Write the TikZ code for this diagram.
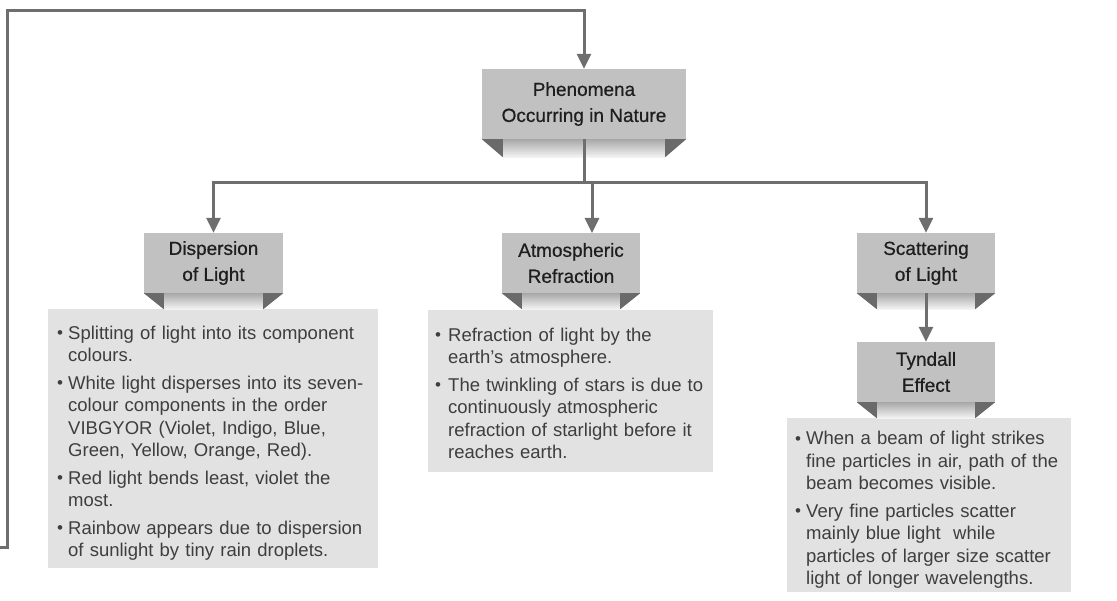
\documentclass[tikz,border=0pt]{standalone}
\usepackage{fontspec}
\setmainfont{Liberation Sans}
\newfontfamily\titlefont{Liberation Sans}[FakeBold=0.6]
\usetikzlibrary{arrows.meta}
\definecolor{titlefill}{HTML}{C1C1C1}
\definecolor{boxfill}{HTML}{E2E2E2}
\definecolor{linec}{HTML}{6E6E6E}
\definecolor{ribdark}{HTML}{6A6A6A}
\definecolor{ribtop}{HTML}{A8A8A8}
\definecolor{ribbot}{HTML}{F4F4F4}
\definecolor{txt}{HTML}{1E1E1E}
\definecolor{btxt}{HTML}{3E3E3E}
\newcommand\ribbon[3]{%
  \shade[top color=ribtop, bottom color=ribbot] ([xshift=#2]#1.south west) rectangle ([xshift=-#2, yshift=-#3]#1.south east);
  \fill[ribdark] (#1.south west) -- ([xshift=#2]#1.south west) -- ([xshift=#2,yshift=-#3]#1.south west) -- cycle;
  \fill[ribdark] (#1.south east) -- ([xshift=-#2]#1.south east) -- ([xshift=-#2,yshift=-#3]#1.south east) -- cycle;}
\newcommand\bitem[2]{\par\hangindent=#1\hangafter=1\noindent\makebox[#1][l]{\raisebox{0.3pt}{\fontsize{17}{17}\selectfont\textbullet}}#2\par}
\begin{document}
\begin{tikzpicture}[x=1pt,y=-1pt,
  titlebox/.style={fill=titlefill, minimum width=138pt, minimum height=60pt, inner sep=0pt, align=center, font=\titlefont\fontsize{19}{26}\selectfont, text=txt},
  infobox/.style={fill=boxfill, anchor=north west, inner ysep=0pt, text=btxt, font=\fontsize{18.5}{22.5}\selectfont, align=left},
  conn/.style={draw=linec, line width=3pt},
  arr/.style={conn, -{Triangle[width=14pt,length=15pt]}}]
\useasboundingbox (0,0) rectangle (1117,601);

% info boxes
\node[infobox, inner xsep=9pt, text width=312pt, minimum height=259pt] (info1) at (48,309) {%
  \raggedright
  \bitem{11pt}{Splitting of light into its component\newline colours.}\vspace{5pt}
  \bitem{11pt}{White light disperses into its seven-\newline colour components in the order\newline VIBGYOR (Violet, Indigo, Blue,\newline Green, Yellow, Orange, Red).}\vspace{5pt}
  \bitem{11pt}{Red light bends least, violet the\newline most.}\vspace{5pt}
  \bitem{11pt}{Rainbow appears due to dispersion\newline of sunlight by tiny rain droplets.}};
\node[infobox, inner xsep=7pt, text width=271pt, minimum height=162pt] (info2) at (428,310) {%
  \raggedright
  \bitem{13pt}{Refraction of light by the\newline earth’s atmosphere.}\vspace{5pt}
  \bitem{13pt}{The twinkling of stars is due to\newline continuously atmospheric\newline refraction of starlight before it\newline reaches earth.}\vspace{5pt}};
\node[infobox, inner xsep=8pt, text width=268pt, minimum height=174pt] (info3) at (787,418) {%
  \raggedright
  \bitem{11pt}{When a beam of light strikes\newline fine particles in air, path of the\newline beam becomes visible.}\vspace{5pt}
  \bitem{11pt}{Very fine particles scatter\newline mainly blue light\ \ while\newline particles of larger size scatter\newline light of longer wavelengths.}};

% title boxes
\node[titlebox, minimum width=204pt, minimum height=70pt] (top) at (584,104) {Phenomena\\Occurring in Nature};
\node[titlebox, minimum width=139pt] (disp) at (213.5,263) {Dispersion\\of Light};
\node[titlebox] (atm) at (571,263) {Atmospheric\\Refraction};
\node[titlebox] (scat) at (926,263) {Scattering\\of Light};
\node[titlebox] (tyn) at (926,372) {Tyndall\\Effect};

\ribbon{top}{21pt}{18pt}
\ribbon{disp}{20pt}{16pt}
\ribbon{atm}{20pt}{16pt}
\ribbon{scat}{20pt}{16pt}
\ribbon{tyn}{20pt}{16pt}

% connectors
\coordinate (loopstart) at (0,547);
\coordinate (loopcorner) at (7,11);
\coordinate (branch) at (584,183);
\coordinate (atmin) at (592,233);
\draw[arr, line join=miter] (loopstart) -| (loopcorner) -| (top.north);
\draw[conn] (top.south) -- (branch);
\draw[arr, line join=miter] (branch) -| (disp.north);
\draw[arr, line join=miter] (branch) -| (scat.north);
\draw[arr] (branch -| atmin) -- (atmin);
\draw[arr] (scat.south) -- (tyn.north);
\end{tikzpicture}
\end{document}
